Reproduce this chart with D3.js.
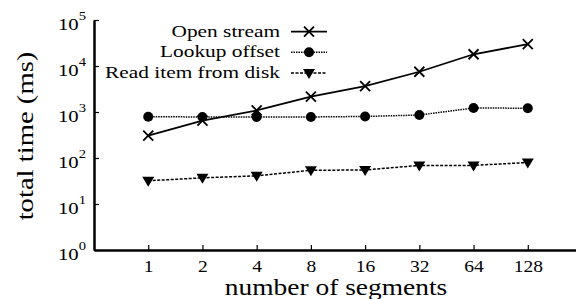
<!DOCTYPE html>
<html><head><meta charset="utf-8">
<script src="https://cdn.jsdelivr.net/npm/d3@7"></script>
<style>
body{margin:0;background:#fff;}
svg text{font-family:"Liberation Serif","Times New Roman",serif;fill:#000;}
</style></head>
<body><svg id="c" width="576" height="299"></svg>
<script>
const categories = ["1","2","4","8","16","32","64","128"];
const openStream = [305, 650, 1080, 2150, 3670, 7500, 18000, 29800];
const lookupOffset = [790, 780, 780, 780, 800, 860, 1220, 1210];
const readItem = [32, 37, 41, 54, 55, 69, 69, 80];
const yTickExps = [0,1,2,3,4,5];
const seriesNames = ["Open stream","Lookup offset","Read item from disk"];

const SX = 1.22; // glyph widening along baseline seen in the reference
const svg = d3.select("#c");
const x = d3.scalePoint().domain(categories).range([94, 582]).padding(1);
const y = d3.scaleLog().domain([1, 1e5]).range([250, 20]);

// x axis
const xAxis = d3.axisBottom(x).tickSize(-5).tickSizeOuter(0);
const gx = svg.append("g").attr("transform","translate(0,250)").call(xAxis);
gx.attr("font-family",null).attr("font-size",null);
gx.select(".domain").attr("stroke-width",2.5);
gx.selectAll(".tick line").attr("stroke-width",1.2);
gx.selectAll(".tick text").attr("font-size",16).attr("y",0).attr("dy",0)
  .attr("transform",`translate(0,21.5) scale(${SX},1)`);

// y axis
const yAxis = d3.axisLeft(y).tickValues(yTickExps.map(e=>Math.pow(10,e))).tickSize(-5).tickSizeOuter(0).tickFormat("");
const gy = svg.append("g").attr("transform","translate(94,0)").call(yAxis);
gy.attr("font-family",null).attr("font-size",null);
gy.select(".domain").attr("stroke-width",2.5);
gy.selectAll(".tick line").attr("stroke-width",1.2);
gy.selectAll(".tick").append("text")
  .attr("text-anchor","end").attr("font-size",17)
  .attr("transform",`translate(-8,9.5) scale(${SX},1)`)
  .each(function(d){
    const t=d3.select(this);
    t.append("tspan").text("10");
    t.append("tspan").attr("dy",-10).attr("font-size",12).text(Math.round(Math.log10(d)));
  });

// titles
svg.append("text").attr("transform",`translate(33,136) rotate(-90) scale(${SX},1)`).attr("text-anchor","middle")
  .attr("font-size",23.5).text("total time (ms)");
svg.append("text").attr("transform",`translate(336,294.5) scale(${SX},1)`).attr("text-anchor","middle")
  .attr("font-size",22.5).text("number of segments");

// series
const series = [
  {name:seriesNames[0], vals:openStream, dash:null, marker:"cross"},
  {name:seriesNames[1], vals:lookupOffset, dash:"1.5,1", marker:"circle"},
  {name:seriesNames[2], vals:readItem, dash:"3,1.5", marker:"tri"}
];
const line = d3.line().x((d,i)=>x(categories[i])).y(d=>y(d));

function marker(g, type, cx, cy){
  if(type==="cross"){
    g.append("path").attr("d",`M${cx-5},${cy-5}L${cx+5},${cy+5}M${cx-5},${cy+5}L${cx+5},${cy-5}`)
      .attr("stroke","#000").attr("stroke-width",1.8).attr("fill","none");
  } else if(type==="circle"){
    g.append("circle").attr("cx",cx).attr("cy",cy).attr("r",5).attr("fill","#000");
  } else {
    g.append("path").attr("d",`M${cx-6},${cy-4}L${cx+6},${cy-4}L${cx},${cy+6}Z`).attr("fill","#000");
  }
}

series.forEach(s=>{
  const g = svg.append("g");
  g.append("path").datum(s.vals).attr("d",line).attr("fill","none").attr("stroke","#000")
    .attr("stroke-width",s.marker==="cross"?1.8:1.5).attr("stroke-dasharray",s.dash);
  s.vals.forEach((v,i)=>marker(g, s.marker, x(categories[i]), y(v)));
});

// legend
const legY = [31.7, 52.3, 73];
series.forEach((s,i)=>{
  const g = svg.append("g");
  g.append("text").attr("transform",`translate(280,${legY[i]+4.8}) scale(${SX},1)`)
    .attr("text-anchor","end").attr("font-size",17.5).text(s.name);
  g.append("line").attr("x1",291).attr("x2",327).attr("y1",legY[i]).attr("y2",legY[i])
    .attr("stroke","#000").attr("stroke-width",s.marker==="cross"?1.8:1.5).attr("stroke-dasharray",s.dash);
  marker(g, s.marker, 309, legY[i]);
});
</script></body></html>
